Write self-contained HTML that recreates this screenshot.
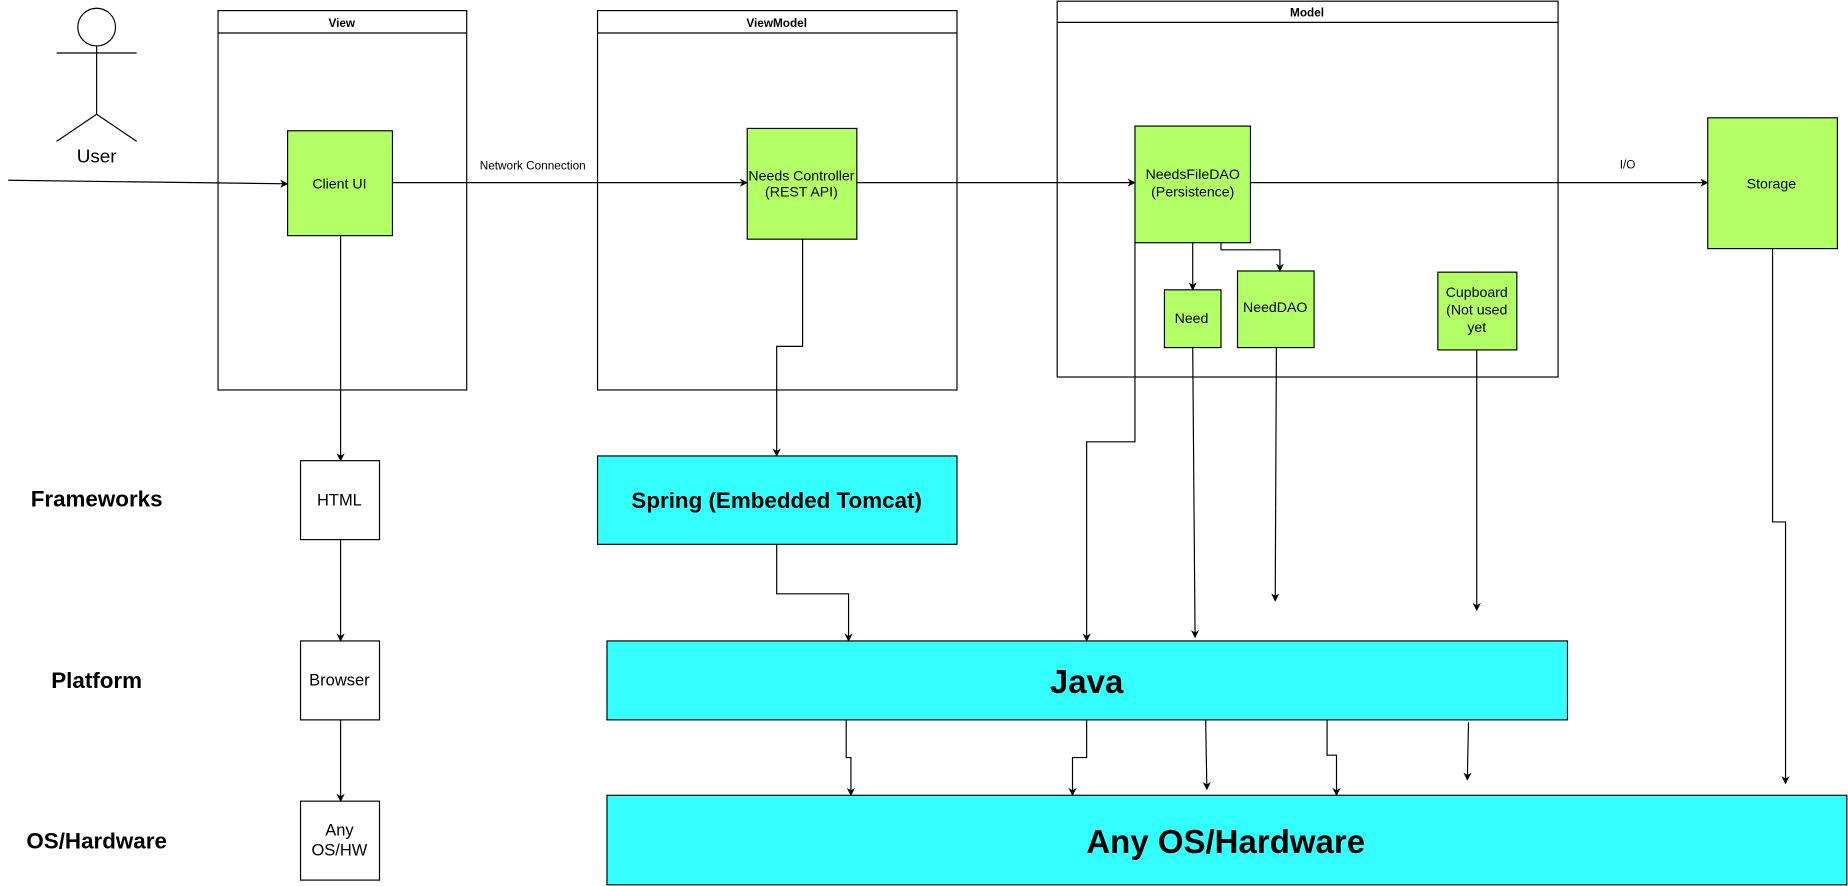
<!DOCTYPE html>
<html><head><meta charset="utf-8"><style>
html,body{margin:0;padding:0;background:#fff;overflow:hidden}
svg{display:block}
text{font-family:"Liberation Sans",Arial,sans-serif;fill:#000}
</style></head><body>
<svg width="1848" height="886" viewBox="0 0 1568 752" preserveAspectRatio="none" xmlns="http://www.w3.org/2000/svg">
<defs><marker id="a" viewBox="0 0 10 10" refX="9" refY="5" markerWidth="7" markerHeight="7" orient="auto" markerUnits="userSpaceOnUse"><path d="M0,0 L10,5 L0,10 L3,5 z" fill="#000"/></marker></defs>
<g fill="none" stroke="#000" stroke-width="1">
<!-- user -->
<circle cx="82" cy="23" r="16"/>
<line x1="82" y1="39" x2="82" y2="97"/>
<line x1="48" y1="45" x2="116" y2="45"/>
<line x1="82" y1="97" x2="48" y2="120"/><line x1="82" y1="97" x2="116" y2="120"/>
<!-- containers -->
<rect x="185" y="9" width="211" height="322"/><line x1="185" y1="28" x2="396" y2="28"/>
<rect x="507" y="9" width="305" height="322"/><line x1="507" y1="28" x2="812" y2="28"/>
<rect x="897" y="1" width="425" height="319"/><line x1="897" y1="19" x2="1322" y2="19"/>
</g>
<g fill="#b3ff66" stroke="#000">
<rect x="244" y="111" width="89" height="89"/>
<rect x="634" y="109" width="93" height="94"/>
<rect x="963" y="107" width="98" height="99"/>
<rect x="988" y="246" width="48" height="49"/>
<rect x="1050" y="230" width="65" height="65"/>
<rect x="1220" y="231" width="67" height="66"/>
<rect x="1449" y="100" width="110" height="111"/>
</g>
<g fill="#fff" stroke="#000">
<rect x="255" y="391" width="67" height="67"/>
<rect x="255" y="544" width="67" height="67"/>
<rect x="255" y="680" width="67" height="67"/>
</g>
<g fill="#33ffff" stroke="#000">
<rect x="507" y="387" width="305" height="75"/>
<rect x="515" y="544" width="815" height="67"/>
<rect x="515" y="675" width="1052" height="76"/>
</g>
<g fill="none" stroke="#000" marker-end="url(#a)">
<path d="M7,153 L244,156"/>
<path d="M333,155 L634,155"/>
<path d="M727,155 L963,155"/>
<path d="M1061,155 L1449,155"/>
<path d="M1012,206 L1012,246"/>
<path d="M1036,206 L1036,212 L1086,212 L1086,230"/>
<path d="M289,200 L289,391"/>
<path d="M681,203 L681,294 L659,294 L659,387"/>
<path d="M289,458 L289,544"/>
<path d="M289,611 L289,680"/>
<path d="M659,462 L659,504 L720,504 L720,544"/>
<path d="M963,206 L963,375 L922,375 L922,544"/>
<path d="M1012,295 L1014,541"/>
<path d="M1083,295 L1082,510"/>
<path d="M1253,297 L1253,518"/>
<path d="M1504,211 L1504,443 L1515,443 L1515,665"/>
<path d="M718,611 L718,643 L722,643 L722,675"/>
<path d="M922,611 L922,643 L910,643 L910,675"/>
<path d="M1023,611 L1024,670"/>
<path d="M1126,611 L1126,641 L1134,641 L1134,675"/>
<path d="M1246,613 L1245,662"/>
</g>
<g text-anchor="middle">
<text x="290" y="23" font-size="10" font-weight="bold">View</text>
<text x="659" y="23" font-size="10" font-weight="bold">ViewModel</text>
<text x="1109" y="14" font-size="10" font-weight="bold">Model</text>
<text x="82" y="138" font-size="16">User</text>
<text x="288" y="160" font-size="12">Client UI</text>
<text x="452" y="144" font-size="10">Network Connection</text>
<text x="680" y="153" font-size="12">Needs Controller</text>
<text x="680" y="167" font-size="12">(REST API)</text>
<text x="1012" y="152" font-size="12">NeedsFileDAO</text>
<text x="1012" y="167" font-size="12">(Persistence)</text>
<text x="1011" y="274" font-size="12">Need</text>
<text x="1082" y="265" font-size="12">NeedDAO</text>
<text x="1253" y="252" font-size="12">Cupboard</text>
<text x="1253" y="267" font-size="12">(Not used</text>
<text x="1253" y="282" font-size="12">yet</text>
<text x="1381" y="143" font-size="10">I/O</text>
<text x="1503" y="160" font-size="12">Storage</text>
<text x="288" y="429" font-size="14">HTML</text>
<text x="288" y="582" font-size="14">Browser</text>
<text x="288" y="709" font-size="14">Any</text>
<text x="288" y="726" font-size="14">OS/HW</text>
<text x="659" y="431" font-size="19" font-weight="bold">Spring (Embedded Tomcat)</text>
<text x="922" y="588" font-size="28" font-weight="bold">Java</text>
<text x="1040" y="724" font-size="28" font-weight="bold">Any OS/Hardware</text>
<text x="82" y="430" font-size="19" font-weight="bold">Frameworks</text>
<text x="82" y="584" font-size="19" font-weight="bold">Platform</text>
<text x="82" y="720" font-size="19" font-weight="bold">OS/Hardware</text>
</g>
</svg>
</body></html>
